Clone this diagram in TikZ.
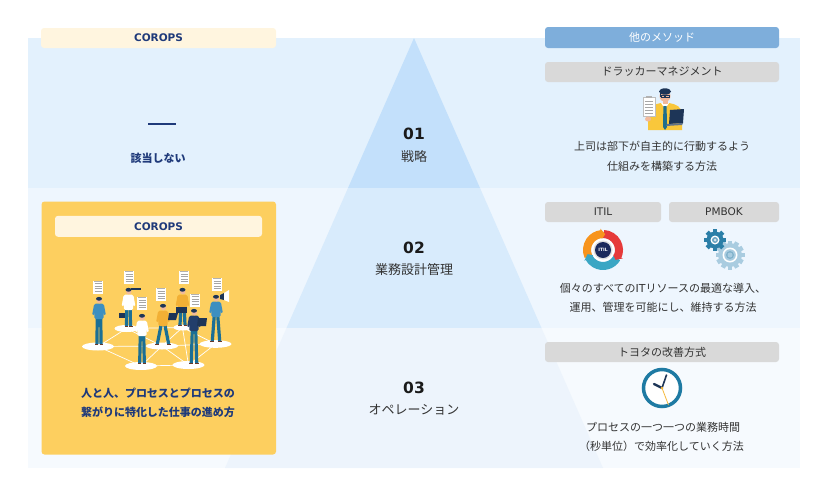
\documentclass[tikz,border=0pt]{standalone}
\usepackage{fontspec}
\setmainfont{DejaVu Sans}
\newfontfamily\jp{Noto Sans CJK JP}
\usetikzlibrary{arrows.meta}
\definecolor{bandA}{HTML}{E3F1FD}
\definecolor{bandB}{HTML}{EEF6FE}
\definecolor{bandC}{HTML}{F6FAFE}
\definecolor{triA}{HTML}{C3E0FB}
\definecolor{triB}{HTML}{D8EBFC}
\definecolor{triC}{HTML}{EDF4FC}
\definecolor{navy}{HTML}{1F3A7A}
\definecolor{cream}{HTML}{FFF5DF}
\definecolor{gold}{HTML}{FDCF5F}
\definecolor{hdrblue}{HTML}{7EAEDB}
\definecolor{boxgray}{HTML}{D9D9D9}
\definecolor{txt}{HTML}{333333}
\definecolor{numc}{HTML}{1A1A1A}
\definecolor{pants}{HTML}{1B6F95}
\definecolor{shirtblue}{HTML}{3D8FC0}
\definecolor{shirtyel}{HTML}{F2B035}
\definecolor{suit}{HTML}{223E6B}
\definecolor{hair}{HTML}{1D3557}
\definecolor{skin}{HTML}{F2B99A}
\definecolor{shoe}{HTML}{6B3A2A}
\definecolor{yelshirt}{HTML}{F9C73B}
\definecolor{tiec}{HTML}{1F6E8C}
\definecolor{gearlight}{HTML}{A9CCE0}
\definecolor{geardark}{HTML}{2B7FA8}
\definecolor{clockc}{HTML}{1E7AA3}
\definecolor{handc}{HTML}{1D3557}
\definecolor{seccol}{HTML}{F6B93B}
\definecolor{itorange}{HTML}{F7941D}
\definecolor{itred}{HTML}{E63A3A}
\definecolor{itteal}{HTML}{3AA6C4}
\definecolor{itnavy}{HTML}{1B2A5C}
\tikzset{
  graybox/.style={fill=boxgray, rounded corners=3pt, minimum height=20pt, inner sep=0pt, text=txt, font={\jp\fontsize{11}{13}\selectfont}},
  latinbox/.style={graybox, font={\fontsize{10.5}{12}\selectfont}},
  bluebox/.style={fill=hdrblue, rounded corners=3pt, minimum width=234pt, minimum height=21pt, inner sep=0pt, text=white, font={\jp\fontsize{11}{13}\selectfont}},
  creambox/.style={fill=cream, rounded corners=3pt, inner sep=0pt, text=navy, font={\fontsize{10.5}{12}\selectfont\bfseries}},
  bodytext/.style={text=txt, inner sep=0pt, font={\jp\fontsize{11}{13}\selectfont}},
  navytext/.style={text=navy, inner sep=0pt, font={\jp\fontsize{11}{13}\selectfont\bfseries}},
  numtext/.style={text=numc, inner sep=0pt, font={\fontsize{15.5}{17}\selectfont\bfseries}},
  lvltext/.style={text=txt, inner sep=0pt, font={\jp\fontsize{13}{15}\selectfont}},
  netline/.style={white, line width=0.7pt},
}
\newcommand\person[6]{%
\begin{scope}[shift={(#1,#2)}]
  \draw[#5, line width=3.2pt] (-1.7,17) -- ({-1.7-#6},{#3-#2-2});
  \draw[#5, line width=3.2pt] (1.7,17) -- ({1.7+#6},{#3-#2-2});
  \fill[shoe] ({-1.7-#6-2},{#3-#2-2.2}) rectangle ({-1.7-#6+1.5},{#3-#2-0.6});
  \fill[shoe] ({1.7+#6-1.5},{#3-#2-2.2}) rectangle ({1.7+#6+2},{#3-#2-0.6});
  \draw[#4, line width=2.2pt, line cap=round] (-4,5.5) -- (-5.6,14);
  \draw[#4, line width=2.2pt, line cap=round] (4,5.5) -- (5.6,14);
  \fill[#4, rounded corners=1.5pt] (-4.7,3.6) rectangle (4.7,19);
  \fill[skin] (0.3,0.6) circle (2.7pt);
  \fill[hair] (0,-1.2) ellipse (3pt and 1.9pt);
\end{scope}}
\newcommand\paperdoc[2]{%
  \fill[white] ({#1-5},{#2-6.5}) rectangle ({#1+5},{#2+6.5});
  \fill[gray!60] ({#1-4},{#2-6.5}) rectangle ({#1+4},{#2-5.6});
  \foreach \k in {-3.5,-1,1.5,4} {\draw[gray!70, line width=0.4pt] ({#1-3.5},{#2+\k}) -- ({#1+3.5},{#2+\k});}}
\begin{document}
\begin{tikzpicture}[x=1pt, y=-1pt]
\useasboundingbox (0,0) rectangle (828,496);
% bands
\fill[bandA] (28,38) rectangle (800,188);
\fill[bandB] (28,188) rectangle (800,328);
\fill[bandC] (28,328) rectangle (800,468);
% pyramid
\fill[triA] (414,38) -- (480,188) -- (348,188) -- cycle;
\fill[triB] (348,188) -- (480,188) -- (541.5,328) -- (286.5,328) -- cycle;
\fill[triC] (286.5,328) -- (541.5,328) -- (603,468) -- (225,468) -- cycle;
% center labels
\node[numtext] (n1) at (414,134) {01};
\node[lvltext] (l1) at (414,157) {戦略};
\node[numtext] (n2) at (414,248) {02};
\node[lvltext] (l2) at (414,270) {業務設計管理};
\node[numtext] (n3) at (414,388) {03};
\node[lvltext] (l3) at (414,410) {オペレーション};
% left column
\node[creambox, minimum width=235pt, minimum height=20pt] (cor1) at (158.5,38) {COROPS};
\draw[navy, line width=1.6pt] (148,124) -- (176,124);
\node[navytext] (na) at (158,158) {該当しない};
\fill[gold, rounded corners=3pt] (41.5,201.5) rectangle (276,454.5);
\node[creambox, minimum width=207pt, minimum height=21pt] (cor2) at (158.5,226.3) {COROPS};
% network
\coordinate (e1) at (98,346.5);
\coordinate (e2) at (126.5,328.5);
\coordinate (e3) at (141,366);
\coordinate (e4) at (162,346);
\coordinate (e5) at (182.5,327.5);
\coordinate (e6) at (188.5,365);
\coordinate (e7) at (215.5,344);
\draw[netline] (e1) -- (e2) (e1) -- (e3) (e1) -- (e4) (e2) -- (e4) (e2) -- (e5) (e3) -- (e4) (e3) -- (e6) (e4) -- (e5) (e4) -- (e6) (e4) -- (e7) (e5) -- (e7) (e6) -- (e7) (e5) -- (e6);
\fill[white] (e1) ellipse (16pt and 4pt);
\fill[white] (e2) ellipse (12pt and 3.5pt);
\fill[white] (e3) ellipse (16pt and 4pt);
\fill[white] (e4) ellipse (16pt and 3.5pt);
\fill[white] (e5) ellipse (9pt and 3pt);
\fill[white] (e6) ellipse (16pt and 4pt);
\fill[white] (e7) ellipse (16pt and 3.8pt);
\paperdoc{98}{287}
\paperdoc{129}{277.5}
\paperdoc{142}{303.5}
\paperdoc{161}{294.5}
\paperdoc{184}{277.5}
\paperdoc{195}{300}
\paperdoc{217}{284.5}
\person{99}{300}{346}{shirtblue}{pants}{0.4}
\person{128.5}{291}{328}{white}{pants}{0.3}
\fill[hair] (131,287.5) rectangle (141,290);
\fill[hair] (119,313) rectangle (125,318);
\person{182.5}{291}{327}{shirtyel}{pants}{0.8}
\fill[hair] (176,307) rectangle (187,313);
\person{163}{307}{346}{shirtyel}{pants}{4}
\fill[hair] (169,313) -- (178,313) -- (176,320) -- (168,320) -- cycle;
\person{142}{317}{365}{white}{pants}{0.6}
\person{194}{312}{365}{suit}{pants}{1}
\fill[hair] (198,318) -- (207,318) -- (206,326) -- (197,326) -- cycle;
\person{216}{298}{343}{shirtblue}{pants}{2}
\fill[hair] (220,295) -- (224,293) -- (224,300) -- (220,299) -- cycle;
\fill[white] (224,293) -- (229,290) -- (229,302) -- (224,300) -- cycle;
\node[navytext] (cc1) at (158,393) {人と人、プロセスとプロセスの};
\node[navytext] (cc2) at (158,412) {繋がりに特化した仕事の進め方};
% right column
\node[bluebox] (hdr) at (662,37.5) {他のメソッド};
\node[graybox, minimum width=234pt] (dr) at (662,72) {ドラッカーマネジメント};
% drucker figure
\begin{scope}[shift={(665,96)}]
  \fill[yelshirt] (-17,34) -- (-17,18) .. controls (-17,11) and (-11,8) .. (-4,7) -- (4,7) .. controls (11,8) and (17,11) .. (17,18) -- (17,34) -- cycle;
  \fill[white] (-4,7) -- (0,13) -- (4,7) -- cycle;
  \fill[tiec] (-1.6,10) -- (1.6,10) -- (2,31) -- (0,34) -- (-2,31) -- cycle;
  \fill[skin] (-2.5,3) rectangle (2.5,8);
  \fill[skin] (0,0) ellipse (5.5pt and 6pt);
  \fill[hair] (0,-4.5) ellipse (6pt and 3.2pt);
  \fill[hair] (-5.5,-4.5) rectangle (-4,1);
  \draw[hair, line width=0.5pt] (-4,-0.5) rectangle (-0.7,1.5) (0.7,-0.5) rectangle (4,1.5);
  \fill[white, draw=gray!50, line width=0.4pt] (-22,1) rectangle (-10,20);
  \fill[gray!60] (-19,0) rectangle (-13,1.8);
  \foreach \k in {5,8,11,14,17} {\draw[gray!70, line width=0.4pt] (-20.5,\k) -- (-12,\k);}
  \fill[skin] (-17,23) ellipse (3pt and 2.5pt);
  \fill[hair] (5,14) -- (19,13) -- (18,27) -- (4,28) -- cycle;
  \fill[hair!70] (2,28) -- (18,27) -- (17,29) -- (1,30) -- cycle;
\end{scope}
\node[bodytext] (dt1) at (662,146) {上司は部下が自主的に行動するよう};
\node[bodytext] (dt2) at (662,166) {仕組みを構築する方法};
\node[latinbox, minimum width=116pt] (itil) at (603,212) {ITIL};
\node[latinbox, minimum width=110pt] (pmbok) at (724,212) {PMBOK};
% ITIL ring
\begin{scope}[shift={(603,250)}]
  \draw[itorange, line width=8pt] (205:16pt) arc (205:95:16pt);
  \draw[itred, line width=8pt] (88:16pt) arc (88:-25:16pt);
  \draw[itteal, line width=8pt] (-30:16pt) arc (-30:-152:16pt);
  \fill[itorange] (97:10.5pt) -- (97:21.5pt) -- (82:16pt) -- cycle;
  \fill[itred] (-23:10.5pt) -- (-23:21.5pt) -- (-38:16pt) -- cycle;
  \fill[itteal] (-150:10.5pt) -- (-150:21.5pt) -- (-165:16pt) -- cycle;
  \fill[white] (0,0) circle (11.5pt);
  \fill[gray!25] (0,0) circle (9.5pt);
  \fill[itnavy] (0,0) circle (8pt);
  \node[text=white, inner sep=0pt, font={\fontsize{4.5}{5}\selectfont\bfseries}] (itlogo) at (0,0) {ITIL};
\end{scope}
% gears
\begin{scope}[shift={(730,255)}]
  \foreach \a in {0,30,...,150} {\fill[gearlight, rotate=\a] (-2.3,-14.5) rectangle (2.3,14.5);}
  \fill[gearlight] (0,0) circle (12pt);
  \fill[white] (0,0) circle (7.5pt);
  \fill[gearlight] (0,0) circle (5.8pt);
  \fill[geardark!60] (0,0) circle (4pt);
  \fill[gearlight] (0,0) circle (2.5pt);
\end{scope}
\begin{scope}[shift={(715,240)}]
  \foreach \a in {0,45,90,135} {\fill[geardark, rotate=\a] (-2.2,-11) rectangle (2.2,11);}
  \fill[geardark] (0,0) circle (8.5pt);
  \fill[white] (0,0) circle (4.5pt);
  \fill[geardark!70] (0,0) circle (3pt);
  \fill[white!80!geardark] (0,0) circle (1.5pt);
\end{scope}
\node[bodytext] (it1) at (663,288) {個々のすべての{\rmfamily IT}リソースの最適な導入、};
\node[bodytext] (it2) at (663,307) {運用、管理を可能にし、維持する方法};
\node[graybox, minimum width=234pt] (toy) at (662,352) {トヨタの改善方式};
% clock
\begin{scope}[shift={(662,388)}]
  \draw[clockc, line width=3.5pt, fill=white] (0,0) circle (18.5pt);
  \draw[handc, line width=2.4pt, line cap=round] (0,0) -- (-8,-4);
  \draw[handc, line width=1.6pt, line cap=round] (0,0) -- (4.5,-13);
  \draw[seccol, line width=0.8pt] (0,0) -- (6.5,17);
  \fill[seccol] (0,0) circle (1.3pt);
\end{scope}
\node[bodytext] (ty1) at (663,427) {プロセスの一つ一つの業務時間};
\node[bodytext] (ty2) at (661.5,446) {（秒単位）で効率化していく方法};
\end{tikzpicture}
\end{document}
